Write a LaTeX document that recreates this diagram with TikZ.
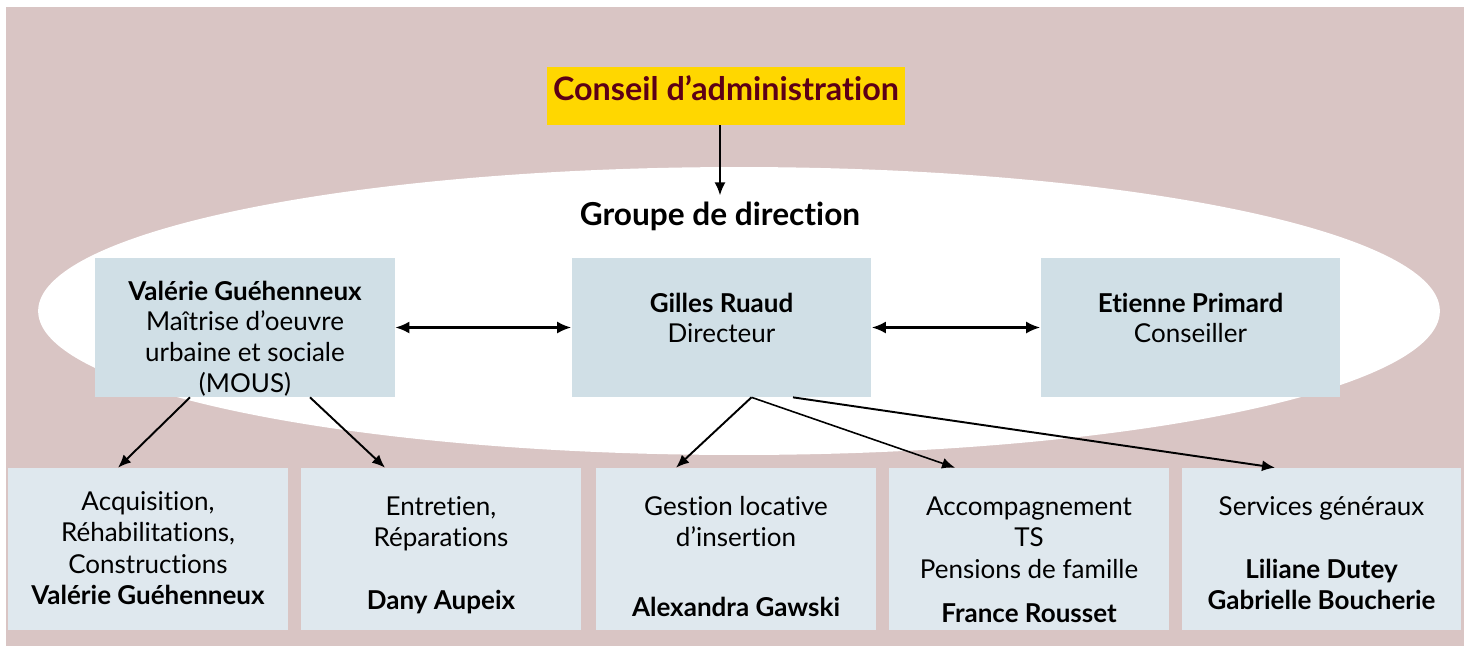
\documentclass[tikz,border=0pt]{standalone}
\usepackage{fontspec}
\setmainfont{Lato}[Ligatures=NoCommon]
\usetikzlibrary{positioning,arrows.meta}

\definecolor{fond}{HTML}{D9C5C4}
\definecolor{jaune}{HTML}{FFD700}
\definecolor{bordeaux}{HTML}{5C0016}
\definecolor{bleu}{HTML}{D0DFE6}
\definecolor{bleuclair}{HTML}{DFE8EE}

\begin{document}
\begin{tikzpicture}[x=0.02cm, y=-0.02cm,
  chef/.style={fill=bleu, inner sep=0pt, font=\fontsize{14.8}{17.5}\selectfont,
    execute at begin node={\begin{minipage}[c][2.78cm][t]{6cm}\centering\rule{0pt}{#1}},
    execute at end node={\end{minipage}}},
  chef/.default=1.08cm,
  service/.style={fill=bleuclair, inner sep=0pt, font=\fontsize{14.8}{18}\selectfont,
    execute at begin node={\begin{minipage}[c][3.24cm][t]{5.6cm}\centering\rule{0pt}{#1}},
    execute at end node={\end{minipage}}},
  service/.default=0.94cm,
  fleche/.style={-{Latex[length=0.26cm, width=0.22cm]}, line width=1.1pt},
  double/.style={{Latex[length=0.28cm, width=0.24cm]}-{Latex[length=0.28cm, width=0.24cm]}, line width=1.3pt}]
\useasboundingbox (0,0) rectangle (1469,646);
\fill[fond] (6,7) rectangle (1464,646);
\fill[white] (739,311) ellipse [x radius=14.02cm, y radius=2.88cm];

\node[fill=jaune, minimum width=7.16cm, minimum height=1.16cm, text depth=0.32cm, text=bordeaux, font=\fontsize{18.4}{21}\selectfont\bfseries] (conseil) at (726,96) {Conseil d’administration};
\node[font=\fontsize{18}{21}\selectfont\bfseries] (groupe) at (720,216) {Groupe de direction};

% groupe de direction
\node[chef=0.84cm] (mous) at (245,327.5) {\textbf{Valérie Guéhenneux}\\Maîtrise d’oeuvre\\urbaine et sociale\\(MOUS)};
\node[chef] (directeur) at (721.5,327.5) {\textbf{Gilles Ruaud}\\Directeur};
\node[chef] (conseiller) at (1190.5,327.5) {\textbf{Etienne Primard}\\Conseiller};

% services
\node[service=0.84cm] (acq) at (148,549) {Acquisition,\\Réhabilitations,\\Constructions\\\textbf{Valérie Guéhenneux}};
\node[service] (entretien) at (441,549) {Entretien,\\Réparations\\[18pt]\textbf{Dany Aupeix}};
\node[service] (gestion) at (736,549) {Gestion locative\\d’insertion\\[22pt]\textbf{Alexandra Gawski}};
\node[service] (accomp) at (1029,549) {Accompagnement\\TS\\Pensions de famille\\[7pt]\textbf{France Rousset}};
\node[service] (services) at (1321.5,549) {Services généraux\\[18pt]\textbf{Liliane Dutey}\\\textbf{Gabrielle Boucherie}};

\draw[fleche] (conseil.south -| groupe.north) -- (groupe.north);
\draw[double] (mous) -- (directeur);
\draw[double] (directeur) -- (conseiller);

\draw[fleche] ([xshift=-1.1cm]mous.south) -- ([xshift=-0.6cm]acq.north);
\draw[fleche] ([xshift=1.3cm]mous.south) -- ([xshift=-1.12cm]entretien.north);
\draw[fleche] ([xshift=0.6cm]directeur.south) -- ([xshift=-1.2cm]gestion.north);
\draw[fleche, line width=0.9pt] ([xshift=0.6cm]directeur.south) -- ([xshift=-1.48cm]accomp.north);
\draw[fleche] ([xshift=1.43cm]directeur.south) -- ([xshift=-0.93cm]services.north);
\end{tikzpicture}
\end{document}
